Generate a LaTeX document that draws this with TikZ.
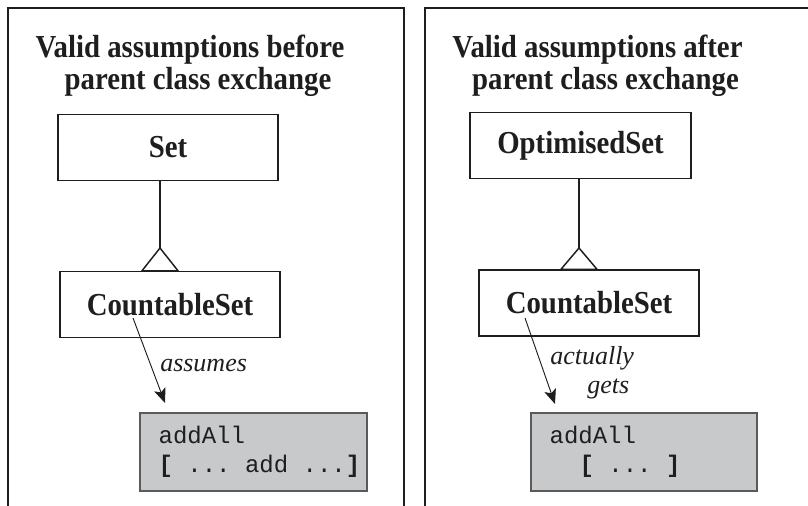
\documentclass[tikz,border=0pt]{standalone}
\usepackage{fontspec}
\setmainfont{Liberation Serif}
\setmonofont{Liberation Mono}
\newfontfamily\narrowserif[FakeStretch=0.9]{Liberation Serif}
\usetikzlibrary{arrows.meta,calc}
\frenchspacing

\definecolor{ink}{RGB}{30,30,30}
\definecolor{codefill}{RGB}{200,201,203}
\definecolor{codeedge}{RGB}{90,90,90}

\tikzset{
  panel/.style={draw=ink, line width=1.6pt},
  heading/.style={font=\narrowserif\bfseries\fontsize{24pt}{24pt}\selectfont,
    text=ink, inner sep=0pt, anchor=base},
  classbox/.style={draw=ink, line width=1.1pt, fill=white,
    minimum width=165pt, minimum height=49.5pt, inner sep=0pt,
    font=\narrowserif\bfseries\fontsize{24pt}{24pt}\selectfont, text=ink},
  codebox/.style={draw=codeedge, line width=1pt, fill=codefill,
    minimum width=170.25pt, minimum height=58.5pt, inner sep=0pt},
  code/.style={font=\ttfamily\fontsize{18pt}{18pt}\selectfont, text=ink,
    inner sep=0pt, anchor=base west},
  relation/.style={draw=ink, line width=1.1pt},
  gentri/.style={draw=ink, line width=1.1pt, fill=white, line join=miter},
  uses/.style={draw=ink, line width=0.7pt,
    -{Stealth[length=11pt,width=9pt,inset=2.5pt]}},
  note/.style={font=\itshape\fontsize{19.5pt}{19.5pt}\selectfont, text=ink,
    inner sep=0pt, anchor=base west},
}

\begin{document}
\begin{tikzpicture}[x=0.75pt, y=-0.75pt]
  \useasboundingbox (0,0) rectangle (808,506);

  % panel frames, open at the bottom
  \draw[panel] (8,506) -- (8,8) -- (404,8) -- (404,506);
  \draw[panel] (425,506) -- (425,8) -- (808,8);

  % ---------- left panel ----------
  \node[heading] (headLa) at (190,58) {Valid assumptions before};
  \node[heading] (headLb) at (198,90) {parent class exchange};

  \node[classbox] (setL) at (168,147.5) {Set};
  \node[classbox] (csL)  at (170,304.5) {CountableSet};

  \coordinate (apexL) at (160,248);
  \draw[relation] (setL.south -| apexL) -- (apexL);
  \draw[gentri] (apexL) -- ($(apexL |- csL.north)+(-18,0)$)
                        -- ($(apexL |- csL.north)+(18,0)$) -- cycle;

  \node[codebox] (codeL) at (253.5,452) {};
  \node[code] (codeLa) at ($(codeL.north west)+(19,31)$) {addAll};
  \node[code] (codeLb) at ($(codeL.north west)+(19,60)$)
        {\textbf{[} ... add ...\textbf{]}};

  \coordinate (fromL) at (133,318);
  \coordinate (toL) at (165,403);
  \draw[uses] (fromL) -- (toL);
  \node[note] (noteL) at (160,372) {assumes};

  % ---------- right panel ----------
  \node[heading] (headRa) at (597.5,58) {Valid assumptions after};
  \node[heading] (headRb) at (605.5,90) {parent class exchange};

  \node[classbox, minimum width=165.75pt] (setR) at (580.5,145.5) {OptimisedSet};
  \node[classbox] (csR) at (589,303) {CountableSet};

  \coordinate (apexR) at (579,248);
  \draw[relation] (setR.south -| apexR) -- (apexR);
  \draw[gentri] (apexR) -- ($(apexR |- csR.north)+(-18,0)$)
                        -- ($(apexR |- csR.north)+(18,0)$) -- cycle;

  \node[codebox, minimum width=169.5pt] (codeR) at (644,452) {};
  \node[code] (codeRa) at ($(codeR.north west)+(19,31)$) {addAll};
  \node[code] (codeRb) at ($(codeR.north west)+(49,60)$)
        {\textbf{[} ... \textbf{]}};

  \coordinate (fromR) at (525,318);
  \coordinate (toR) at (555,404);
  \draw[uses] (fromR) -- (toR);
  \node[note] (noteRa) at (550,365) {actually};
  \node[note] (noteRb) at (587,393) {gets};
\end{tikzpicture}
\end{document}
